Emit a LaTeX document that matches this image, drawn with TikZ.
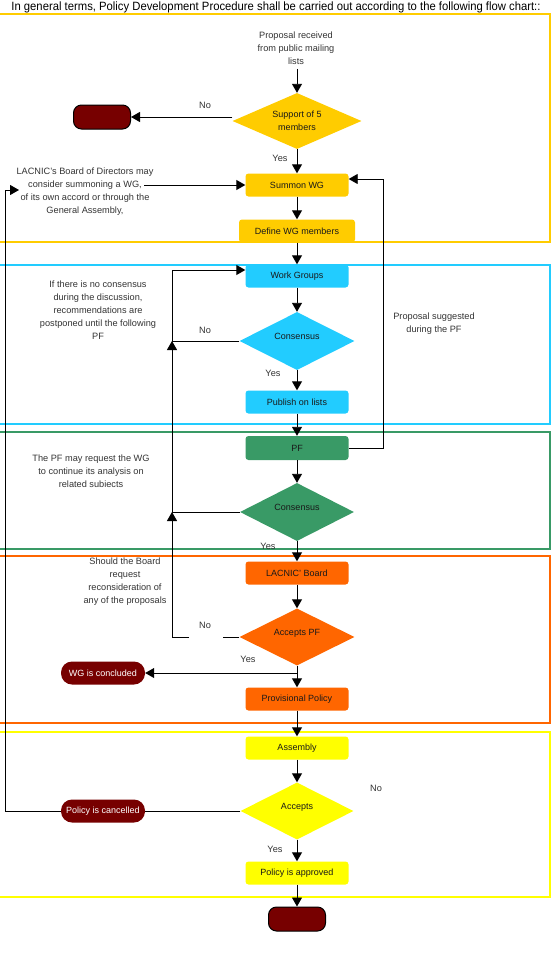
\documentclass[tikz,border=0pt]{standalone}
\usepackage{fontspec}
\setmainfont{Liberation Sans}
\usetikzlibrary{shapes.geometric,arrows.meta}
\definecolor{gold}{HTML}{FFCC00}
\definecolor{cyanb}{HTML}{22CCFF}
\definecolor{greenb}{HTML}{399A66}
\definecolor{orangeb}{HTML}{FF6600}
\definecolor{yellowb}{HTML}{FFFF00}
\definecolor{darkred}{HTML}{770000}
\definecolor{txt}{HTML}{333333}
\begin{document}
\begin{tikzpicture}[x=1pt,y=-1pt,
 lane/.style={line width=1.5pt},
 proc/.style={rounded corners=3pt, minimum width=103pt, minimum height=23pt, inner sep=0pt, font=\fontsize{9}{11}\selectfont, text=black!90},
 dec/.style={diamond, aspect=2, inner sep=0pt, align=center, font=\fontsize{9}{13}\selectfont, text=black!90},
 up/.style={text height=6.5pt, text depth=9pt},
 term/.style={draw=black, fill=darkred, rounded corners=8pt, minimum width=57pt, minimum height=24pt, line width=1pt},
 capsule/.style={fill=darkred, rounded corners=11pt, minimum width=84pt, minimum height=23pt, inner sep=0pt, text=white, font=\fontsize{9}{11}\selectfont},
 note/.style={font=\fontsize{9.2}{13}\selectfont, text=txt, align=center, inner sep=0pt},
 lab/.style={font=\fontsize{9.2}{11}\selectfont, text=txt, inner sep=0pt},
 arr/.style={-{Triangle[length=9pt,width=10pt]}, line width=0.9pt},
 con/.style={line width=0.9pt}
]
\useasboundingbox (0,0) rectangle (552,958);
% lanes
\draw[lane, gold] (-2,14) rectangle (550,242);
\draw[lane, cyanb] (-2,265) rectangle (550,424);
\draw[lane, greenb] (-2,432) rectangle (550,549);
\draw[lane, orangeb] (-2,556) rectangle (550,723);
\draw[lane, yellowb] (-2,732) rectangle (550,897);
% title
\node[font=\fontsize{12}{13}\selectfont\addfontfeature{FakeStretch=0.94}, inner sep=0pt] (title) at (276,7.5) {In general terms, Policy Development Procedure shall be carried out according to the following flow chart::};
% notes
\node[note] (src) at (296,48) {Proposal received\\from public mailing\\lists};
\node[note] (lbd) at (85,192) {LACNIC's Board of Directors may\\consider summoning a WG,\\of its own accord or through the\\General Assembly,};
\node[note] (ncons) at (98,310) {If there is no consensus\\during the discussion,\\recommendations are\\postponed until the following\\PF};
\node[note] (pfreq) at (91,471) {The PF may request the WG\\to continue its analysis on\\related subiects};
\node[note] (board) at (125,582) {Should the Board\\request\\reconsideration of\\any of the proposals};
\node[note] (propsug) at (434,324) {Proposal suggested\\during the PF};
% flow nodes
\node[dec, fill=gold, minimum width=129pt, minimum height=56pt] (d1) at (297,121) {Support of 5\\members};
\node[term] (t1) at (102,117) {};
\node[proc, fill=gold] (sw) at (297,185) {Summon WG};
\node[proc, fill=gold, minimum width=116pt] (dw) at (297,231) {Define WG members};
\node[proc, fill=cyanb] (wg) at (297,276) {Work Groups};
\node[dec, up, fill=cyanb, minimum width=115pt, minimum height=58pt] (c1) at (297,341) {Consensus};
\node[proc, fill=cyanb] (pub) at (297,402) {Publish on lists};
\node[proc, fill=greenb, minimum height=24pt] (pf) at (297,448) {PF};
\node[dec, up, fill=greenb, minimum width=114pt, minimum height=58pt] (c2) at (297,512) {Consensus};
\node[proc, fill=orangeb] (lb) at (297,573) {LACNIC' Board};
\node[dec, up, fill=orangeb, minimum width=115pt, minimum height=57pt] (apf) at (297,637) {Accepts PF};
\node[capsule] (wgc) at (103,673) {WG is concluded};
\node[proc, fill=orangeb] (prov) at (297,699) {Provisional Policy};
\node[proc, fill=yellowb] (asm) at (297,748) {Assembly};
\node[dec, up, fill=yellowb, minimum width=113pt, minimum height=57pt] (acc) at (297,811) {Accepts};
\node[capsule] (pc) at (103,811) {Policy is cancelled};
\node[proc, fill=yellowb] (pa) at (297,873) {Policy is approved};
\node[term] (t2) at (297,919) {};
% labels
\node[lab] (n1) at (205,105) {No};
\node[lab] (y1) at (280,158) {Yes};
\node[lab] (n2) at (205,330) {No};
\node[lab] (y2) at (273,373) {Yes};
\node[lab] (y3) at (268,546) {Yes};
\node[lab] (n3) at (205,625) {No};
\node[lab] (y4) at (248,659) {Yes};
\node[lab] (n4) at (376,788) {No};
\node[lab] (y5) at (275,849) {Yes};
% coordinates
\coordinate (srcb) at (297,69);
\coordinate (lbdout) at (144,185);
\coordinate (lbdin) at (19,190);
\coordinate (j1) at (172,341);
\coordinate (j2) at (172,512);
\coordinate (j3) at (172,637);
\coordinate (g1) at (223,637);
\coordinate (g2) at (189,637);
\coordinate (pfr) at (383,448);
\coordinate (lx) at (5,811);
% connectors
\draw[arr] (srcb) -- (d1.north);
\draw[arr] (d1.west |- t1) -- (t1.east);
\draw[arr] (d1.south) -- (sw.north);
\draw[arr] (lbdout) -- (sw.west);
\draw[arr] (sw.south) -- (dw.north);
\draw[arr] (dw.south) -- (wg.north);
\draw[arr] (wg.south) -- (c1.north);
\draw[arr] (c1.south) -- (pub.north);
\draw[arr] (pub.south) -- (pf.north);
\draw[arr] (pf.south) -- (c2.north);
\draw[arr] (pf.east) -- (pfr) |- ([yshift=6pt]sw.east);
\draw[arr] (c2.south) -- (lb.north);
\draw[arr] (lb.south) -- (apf.north);
\draw[arr] (apf.south) -- (prov.north);
\draw[arr] (apf.south |- wgc.east) -- (wgc.east);
\draw[arr] (prov.south) -- (asm.north);
\draw[arr] (asm.south) -- (acc.north);
\draw[arr] (acc.south) -- (pa.north);
\draw[arr] (pa.south) -- (t2.north);
\draw[con] (acc.west) -- (pc.east);
\draw[arr] (pc.west) -- (lx) |- (lbdin);
% loop back to work groups
\draw[con] (apf.west) -- (g1);
\draw[con] (g2) -- (j3);
\draw[arr] (j3) -- (j2);
\draw[arr] (j2) -- (j1);
\draw[arr] (j1) |- ([yshift=6pt]wg.west);
\draw[con] (c1.west) -- (j1);
\draw[con] (c2.west) -- (j2);
\end{tikzpicture}
\end{document}
